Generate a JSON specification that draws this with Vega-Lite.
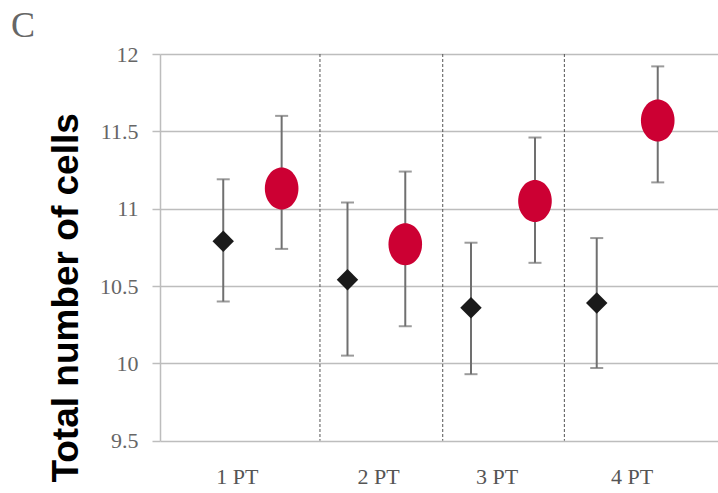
{
  "$schema": "https://vega.github.io/schema/vega-lite/v6.json",
  "width": 558,
  "height": 386.7,
  "autosize": {"type": "none"},
  "padding": {"left": 160, "top": 54, "right": 0, "bottom": 52.3},
  "background": "white",
  "config": {
    "view": {"stroke": null},
    "axisY": {
      "grid": true, "gridColor": "#bdbdbd", "gridWidth": 1.5,
      "domain": true, "domainColor": "#bdbdbd", "domainWidth": 1.5,
      "ticks": true, "tickColor": "#bdbdbd", "tickSize": 8, "tickWidth": 1.5,
      "labelFont": "Liberation Serif", "labelFontSize": 22, "labelColor": "#666", "labelPadding": 14,
      "titleFont": "Liberation Sans", "titleFontWeight": "bold", "titleFontSize": 37, "titleColor": "#000",
      "titleAngle": 270, "titleX": -83, "titleY": 243.4, "titleAlign": "center", "titleBaseline": "alphabetic"
    },
    "axisX": {
      "grid": false, "domain": false, "ticks": false, "tickSize": 0,
      "labelFont": "Liberation Serif", "labelFontSize": 22, "labelColor": "#555", "labelPadding": 26
    }
  },
  "title": {
    "text": "C", "anchor": "start", "frame": "group",
    "font": "Liberation Serif", "fontSize": 36, "fontWeight": "normal", "color": "#666",
    "dx": -149, "dy": 2, "offset": 0
  },
  "datasets": {
    "points": [
      {"day": "1 PT", "group": "control", "x": 1.010, "mean": 10.79, "lo": 10.40, "hi": 11.19},
      {"day": "2 PT", "group": "control", "x": 2.012, "mean": 10.54, "lo": 10.05, "hi": 11.04},
      {"day": "3 PT", "group": "control", "x": 3.008, "mean": 10.36, "lo": 9.93, "hi": 10.78},
      {"day": "4 PT", "group": "control", "x": 4.022, "mean": 10.39, "lo": 9.97, "hi": 10.81},
      {"day": "1 PT", "group": "treated", "x": 1.481, "mean": 11.13, "lo": 10.74, "hi": 11.60},
      {"day": "2 PT", "group": "treated", "x": 2.478, "mean": 10.77, "lo": 10.24, "hi": 11.24},
      {"day": "3 PT", "group": "treated", "x": 3.524, "mean": 11.05, "lo": 10.65, "hi": 11.46},
      {"day": "4 PT", "group": "treated", "x": 4.514, "mean": 11.57, "lo": 11.17, "hi": 11.92}
    ],
    "separators": [
      {"x": 1.790}, {"x": 2.780}, {"x": 3.761}
    ]
  },
  "layer": [
    {
      "data": {"name": "separators"},
      "mark": {"type": "rule", "strokeDash": [3, 2], "color": "#555", "strokeWidth": 1},
      "encoding": {
        "x": {
          "field": "x", "type": "quantitative",
          "scale": {"domain": [0.5, 5], "nice": false, "zero": false},
          "axis": {
            "title": null,
            "values": [1.119, 2.258, 3.215, 4.304],
            "labelExpr": "datum.value < 1.5 ? '1 PT' : datum.value < 2.5 ? '2 PT' : datum.value < 3.5 ? '3 PT' : '4 PT'"
          }
        }
      }
    },
    {
      "data": {"name": "points"},
      "mark": {"type": "rule", "color": "#707070", "strokeWidth": 2},
      "encoding": {
        "x": {"field": "x", "type": "quantitative"},
        "y": {
          "field": "lo", "type": "quantitative",
          "scale": {"domain": [9.5, 12], "nice": false, "zero": false},
          "axis": {"title": "Total number of cells", "values": [9.5, 10, 10.5, 11, 11.5, 12], "format": "~g"}
        },
        "y2": {"field": "hi"}
      }
    },
    {
      "data": {"name": "points"},
      "mark": {"type": "tick", "orient": "horizontal", "size": 13, "thickness": 2, "color": "#707070"},
      "encoding": {
        "x": {"field": "x", "type": "quantitative"},
        "y": {"field": "lo", "type": "quantitative"}
      }
    },
    {
      "data": {"name": "points"},
      "mark": {"type": "tick", "orient": "horizontal", "size": 13, "thickness": 2, "color": "#707070"},
      "encoding": {
        "x": {"field": "x", "type": "quantitative"},
        "y": {"field": "hi", "type": "quantitative"}
      }
    },
    {
      "data": {"name": "points"},
      "transform": [{"filter": "datum.group === 'control'"}],
      "mark": {"type": "point", "shape": "diamond", "filled": true, "size": 460, "color": "#1a1a1a", "opacity": 1},
      "encoding": {
        "x": {"field": "x", "type": "quantitative"},
        "y": {"field": "mean", "type": "quantitative"}
      }
    },
    {
      "data": {"name": "points"},
      "transform": [{"filter": "datum.group === 'treated'"}],
      "mark": {"type": "point", "shape": "M0,-1A0.8,1 0 1,1 0,1A0.8,1 0 1,1 0,-1Z", "filled": true, "size": 1764, "color": "#cc0033", "opacity": 1},
      "encoding": {
        "x": {"field": "x", "type": "quantitative"},
        "y": {"field": "mean", "type": "quantitative"}
      }
    }
  ]
}
